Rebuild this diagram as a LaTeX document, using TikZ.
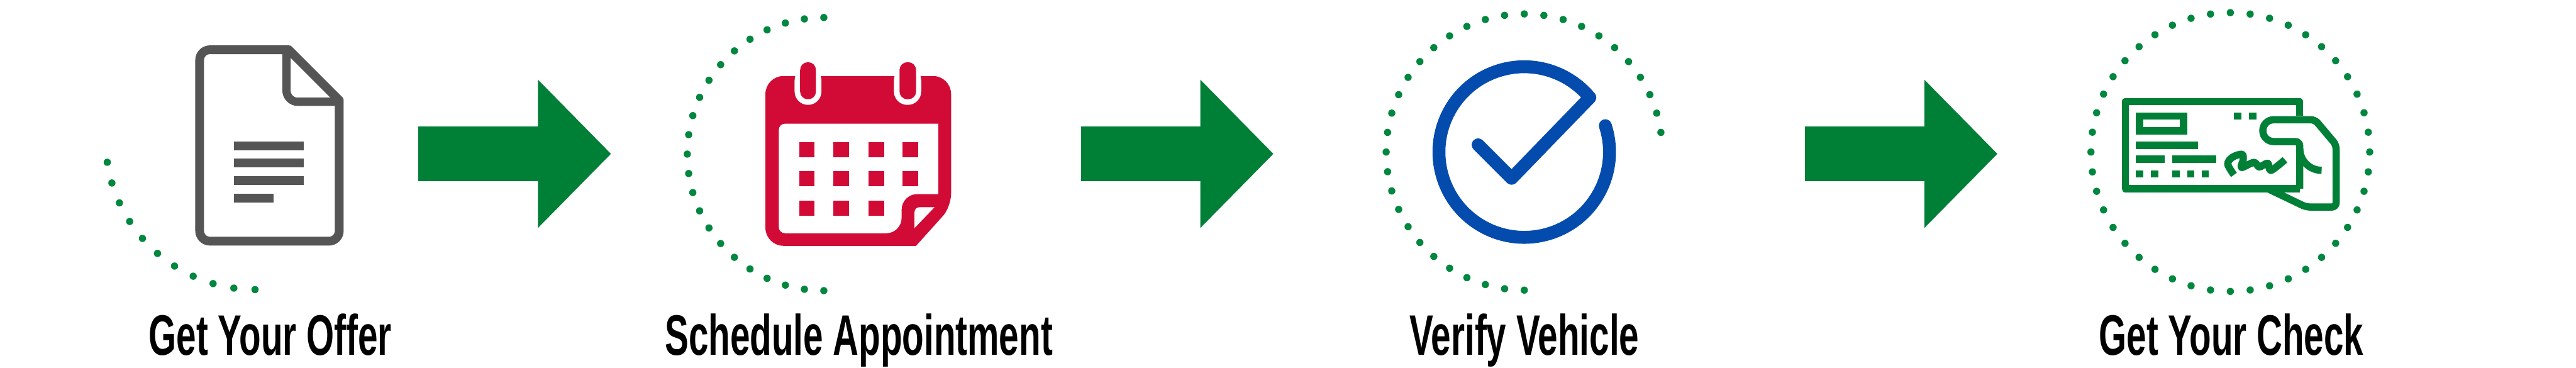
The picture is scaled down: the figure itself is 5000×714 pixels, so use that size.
\documentclass[tikz,border=0pt]{standalone}
\usepackage{fontspec}
\usetikzlibrary{arrows.meta, positioning}
\newfontfamily\labelfont{Liberation Sans}[FakeStretch=0.624]
\definecolor{flowgreen}{HTML}{007F37}
\definecolor{dotgreen}{HTML}{00873F}
\definecolor{docgrey}{HTML}{555555}
\definecolor{calred}{HTML}{D20B36}
\definecolor{checkblue}{HTML}{034CAE}
\tikzset{> = { Triangle[length = 1.42cm, width = 2.79cm] }}

\begin{document}
\begin{tikzpicture}[x = 0.01cm, y = 0.01cm, flowarrow/.style = { ->, draw = flowgreen, fill = flowgreen, line width = 1.07cm }, dotmark/.style = { fill = dotgreen }, steplabel/.style = { anchor = base, inner sep = 0pt, font = \labelfont\bfseries\fontsize{31.5}{36}\selectfont }, docline/.style = { draw = docgrey, line width = 0.17cm, line join = round }, docbar/.style = { fill = docgrey }, calbox/.style = { fill = calred }, gapbox/.style = { fill = white }, ringline/.style = { draw = checkblue, line width = 0.25cm, line cap = round, line join = round }, chequeline/.style = { draw = flowgreen, line width = 0.14cm, line join = round }, chequebox/.style = { fill = flowgreen }]
	\fill [white] (0, 0) rectangle (5000, -714);
	\useasboundingbox (0, 0) rectangle (5000, -714);

	\coordinate (c1) at (495, -272);
	\coordinate (c2) at (1599, -299);
	\coordinate (c3) at (2958.5, -295);
	\coordinate (c4) at (4329, -295);

	\coordinate (a1) at (812, -298.5);
	\coordinate [right = 3.74cm of a1] (b1);
	\coordinate (a2) at (2098.7, -298.5);
	\coordinate [right = 3.73cm of a2] (b2);
	\coordinate (a3) at (3503, -298.5);
	\coordinate [right = 3.74cm of a3] (b3);

	\draw [flowarrow] (a1) -- (b1);
	\draw [flowarrow] (a2) -- (b2);
	\draw [flowarrow] (a3) -- (b3);

	\foreach \i in {0,...,10}
		\fill [dotmark] (c1) ++ (188.5 + \i * 8.15:290) circle (7);
	\foreach \i in {0,...,22}
		\fill [dotmark] (c2) ++ (90 + \i * 8.182:265) circle (7);
	\foreach \i in {0,...,32}
		\fill [dotmark] (c3) ++ (8.18 + \i * 8.182:268) circle (7);
	\foreach \i in {0,...,43}
		\fill [dotmark] (c4) ++ (\i * 8.182:270.5) circle (7);

	\draw [docline] (560.5, -96.5) [rounded corners = 0.2cm] -- (387.5, -96.5) -- (387.5, -468) -- (658.5, -468) [sharp corners] -- (658.5, -194.5) -- cycle;
	\draw [docline, line width = 0.16cm] (556, -100) [rounded corners = 0.22cm] -- (556, -197.5) [sharp corners] -- (658.5, -197.5);
	\fill [docbar] (454.5, -274.5) rectangle (590, -291.5);
	\fill [docbar] (454.5, -307.5) rectangle (590, -324.5);
	\fill [docbar] (454.5, -342) rectangle (590, -359);
	\fill [docbar] (454.5, -376) rectangle (531.5, -393);

	\fill [calbox] (1800, -147.5) [rounded corners = 0.35cm] -- (1485.7, -147.5) -- (1485.7, -477) [sharp corners] -- (1778, -477) -- (1832, -417) [rounded corners = 0.2cm] -- (1846, -396) [rounded corners = 0.35cm] -- (1846, -147.5) [sharp corners] -- cycle;
	\fill [gapbox] (1511.7, -240) -- (1821, -240) -- (1821, -376.6) [rounded corners = 0.3cm] -- (1750, -376.6) -- (1750, -452.6) [rounded corners = 0.12cm] -- (1511.7, -452.6) -- cycle;
	\fill [gapbox] (1814, -402) [rounded corners = 0.1cm] -- (1775, -402) [sharp corners] -- (1775, -442.6) -- cycle;
	\fill [gapbox, rounded corners = 0.26cm] (1542.3, -130) rectangle (1594.4, -203.5);
	\fill [gapbox, rounded corners = 0.26cm] (1735, -130) rectangle (1788, -203.5);
	\fill [calbox, rounded corners = 0.15cm] (1553, -120.7) rectangle (1583.7, -192.6);
	\fill [calbox, rounded corners = 0.15cm] (1746, -120.7) rectangle (1778, -192.6);
	\foreach \x in {1551,1618,1686,1752}
		\foreach \y in {-275.5,-332}
			\fill [calbox] (\x, \y) rectangle ++ (30, -29.5);
	\foreach \x in {1551,1618,1686}
		\fill [calbox] (\x, -389.3) rectangle ++ (30, -29.5);

	\draw [ringline] (c3) ++ (18:165.5) arc [start angle = 18, end angle = -320.3, radius = 165.5] -- (2934, -346) -- (2869, -281);

	\draw [chequeline] (4463.7, -225) -- (4463.7, -197) -- (4125, -197) -- (4125, -366) -- (4463.7, -366);
	\draw [chequeline] (4463.7, -366) [rounded corners = 0.08cm] -- (4463.7, -274.8) [sharp corners] -- (4413.3, -274.8) arc [start angle = 270, end angle = 90, radius = 21.25] [rounded corners = 0.08cm] -- (4493.3, -232.3) -- (4534.3, -281) -- (4534.3, -401.7) -- (4476, -401.7) [sharp corners] -- (4401.5, -366);
	\draw [chequeline] (4463.7, -288) arc [start angle = 180, end angle = 270, radius = 42.5];
	\draw [chequeline] plot [smooth, tension = 0.55] coordinates {(4336, -339.3) (4324, -318.3) (4333.3, -305) (4351.7, -299.3) (4354, -310) (4350.7, -325) (4375, -315) (4385, -324) (4401.7, -316.7) (4407.7, -330.7) (4435, -310)};
	\fill [chequebox] (4146, -218) rectangle (4245, -260.7);
	\fill [white] (4160.3, -232.3) rectangle (4231, -246.3);
	\fill [chequebox] (4146, -274.7) rectangle (4266.3, -289);
	\fill [chequebox] (4146, -302) rectangle (4202, -316.3);
	\fill [chequebox] (4216.3, -302) rectangle (4302, -316.3);
	\foreach \x in {4146,4174.5,4216.3,4245,4273.3}
		\fill [chequebox] (\x, -330.3) rectangle ++ (14.3, -14.3);
	\foreach \x in {4336.3,4365}
		\fill [chequebox] (\x, -218) rectangle ++ (14.3, -14.3);

	\node [steplabel] (offer) at (524.6, -689) {Get Your Offer};
	\node [steplabel] (schedule) at (1667, -689) {Schedule Appointment};
	\node [steplabel] (verify) at (2958.6, -689) {Verify Vehicle};
	\node [steplabel] (cheque) at (4331, -689) {Get Your Check};
\end{tikzpicture}
\end{document}
